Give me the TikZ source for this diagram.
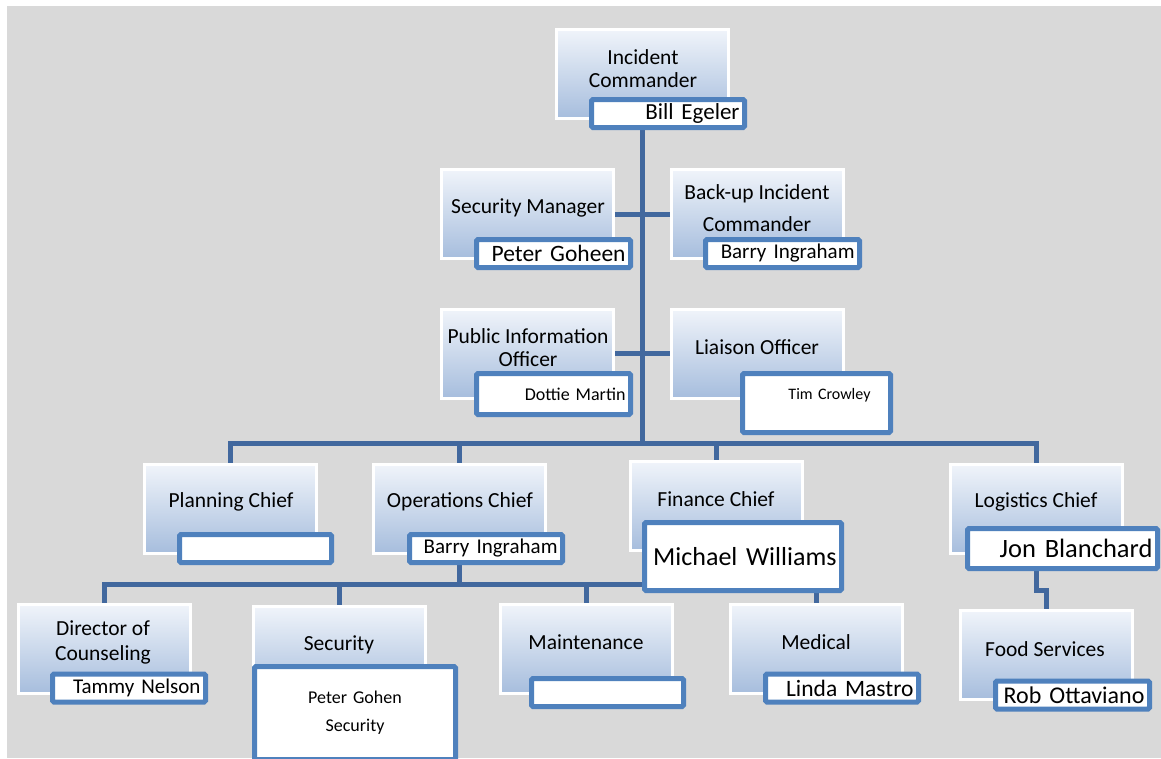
\documentclass[tikz,border=0pt]{standalone}
\usepackage{fontspec}
\setmainfont{Carlito}
\usetikzlibrary{backgrounds}

\definecolor{sheet}{RGB}{217,217,217}
\definecolor{boxtop}{RGB}{240,244,250}
\definecolor{boxbottom}{RGB}{166,189,221}
\definecolor{nameblue}{RGB}{79,129,189}
\definecolor{linkblue}{RGB}{66,104,158}

\begin{document}
\begin{tikzpicture}[x=1pt,y=-1pt,
    unit/.style={rectangle,draw=white,line width=3pt,top color=boxtop,bottom color=boxbottom,
                 minimum width=172pt,minimum height=89pt,inner sep=0pt},
    title/.style={align=center,font=\fontsize{21.5}{23}\selectfont},
    namebox/.style={rectangle,draw=nameblue,line width=5pt,fill=white,rounded corners=1.5pt,
                    inner xsep=5pt,inner ysep=0pt,minimum height=28pt,align=right},
    link/.style={draw=linkblue,line width=5pt}]

  \useasboundingbox (0,0) rectangle (1161,758);
  \begin{scope}[on background layer]
    \fill[sheet] (7,6) rectangle (1161,758);
  \end{scope}

  % command staff
  \node[unit] (ic) at (642.5,74) {};
  \node[title] (ic-t) at (643,68.5) {Incident\\Commander};
  \node[namebox,text width=143pt,font=\fontsize{23}{27}\selectfont] (ic-n) at (668,113.5) {Bill Egeler};

  \node[unit] (sm) at (527.5,214) {};
  \node[title] (sm-t) at (528,208) {Security Manager};
  \node[namebox,text width=144pt,font=\fontsize{23.5}{27}\selectfont] (sm-n) at (553.5,253.5) {Peter Goheen};

  \node[unit] (bic) at (757,214) {};
  \node[title] (bic-t) at (757,208) {Back-up Incident\\[9pt]Commander};
  \node[namebox,text width=144pt,font=\fontsize{21}{25}\selectfont] (bic-n) at (782.5,253.5) {Barry Ingraham};

  \node[unit] (pio) at (527.5,353.5) {};
  \node[title] (pio-t) at (528,347.5) {Public Information\\Officer};
  \node[namebox,text width=144pt,minimum height=41pt,font=\fontsize{18}{22}\selectfont] (pio-n) at (553.5,394) {Dottie Martin};

  \node[unit] (lo) at (757,353.5) {};
  \node[title] (lo-t) at (757,347) {Liaison Officer};
  \node[namebox,text width=138pt,minimum height=59pt,font=\fontsize{16}{19}\selectfont] (lo-n) at (816.5,403) {Tim Crowley\rule{15pt}{0pt}\\ ~};

  % section chiefs
  \node[unit] (plan) at (230.5,509) {};
  \node[title] (plan-t) at (231,502) {Planning Chief};
  \node[namebox,text width=142pt] (plan-n) at (255.5,548.5) {};

  \node[unit] (ops) at (459.5,509) {};
  \node[title] (ops-t) at (460,502) {Operations Chief};
  \node[namebox,text width=143pt,font=\fontsize{21}{25}\selectfont] (ops-n) at (486,548.5) {Barry Ingraham};

  \node[unit] (fin) at (716.5,506) {};
  \node[title] (fin-t) at (716,499) {Finance Chief};
  \node[namebox,text width=187pt,minimum height=68pt,font=\fontsize{26}{30}\selectfont] (fin-n) at (743,556.5) {Michael Williams};

  \node[unit] (log) at (1036.5,509) {};
  \node[title] (log-t) at (1036,502) {Logistics Chief};
  \node[namebox,text width=180pt,minimum height=40pt,font=\fontsize{26.5}{30}\selectfont] (log-n) at (1062.5,548.5) {Jon Blanchard};

  % units
  \node[unit] (dir) at (104,649) {};
  \node[title] (dir-t) at (103,642.5) {Director of\\[2pt]Counseling};
  \node[namebox,text width=143pt,font=\fontsize{21}{25}\selectfont] (dir-n) at (129,688) {Tammy Nelson};

  \node[unit] (sec) at (339.5,651) {};
  \node[title] (sec-t) at (339,645) {Security};
  \node[namebox,text width=191pt,minimum height=93pt,align=center,font=\fontsize{18}{28}\selectfont] (sec-n) at (355,713) {Peter Gohen\\Security};

  \node[unit] (maint) at (586,649) {};
  \node[title] (maint-t) at (586,642) {Maintenance};
  \node[namebox,text width=142pt] (maint-n) at (607.5,692.5) {};

  \node[unit] (med) at (816.5,649) {};
  \node[title] (med-t) at (816,642) {Medical};
  \node[namebox,text width=143pt,font=\fontsize{23.5}{27}\selectfont] (med-n) at (842,688) {Linda Mastro};

  \node[unit] (food) at (1046,655) {};
  \node[title] (food-t) at (1045,649) {Food Services};
  \node[namebox,text width=144pt,font=\fontsize{24}{27}\selectfont] (food-n) at (1072.5,695) {Rob Ottaviano};

  % reporting lines
  \coordinate (bar1) at (643,443);
  \coordinate (bar2) at (460,584);
  \coordinate (jog) at (1046,590);
  \begin{scope}[on background layer]
    \draw[link] (ic) -- (ic |- bar1);
    \draw[link] (sm) -- (bic);
    \draw[link] (pio) -- (lo);
    \draw[link] (plan.north) |- (bar1) -| (log.north);
    \draw[link] (ops.north) -- (ops |- bar1);
    \draw[link] (fin.north) -- (fin |- bar1);
    \draw[link] (ops) -- (ops |- bar2);
    \draw[link] (dir.north) |- (bar2) -| (med.north);
    \draw[link] (sec.north) -- (sec |- bar2);
    \draw[link] (maint.north) -- (maint |- bar2);
    \draw[link] (log) |- (jog) -- (food.north);
  \end{scope}

\end{tikzpicture}
\end{document}
